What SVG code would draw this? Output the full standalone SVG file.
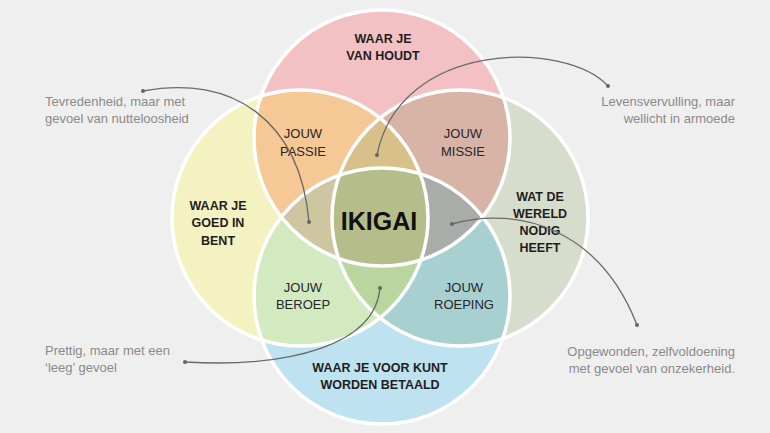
<svg xmlns="http://www.w3.org/2000/svg" width="770" height="433" viewBox="0 0 770 433">
<defs>
<clipPath id="cP"><circle cx="382" cy="138" r="128"/></clipPath>
<clipPath id="cY"><circle cx="300" cy="218" r="128"/></clipPath>
<clipPath id="cR"><circle cx="460" cy="218" r="128"/></clipPath>
<clipPath id="cB"><circle cx="382" cy="296" r="128"/></clipPath>
<marker id="dot" viewBox="0 0 6 6" refX="3" refY="3" markerWidth="4" markerHeight="4" markerUnits="userSpaceOnUse"><circle cx="3" cy="3" r="3" fill="#666"/></marker>
</defs>
<style>
.lbl{font-family:"Liberation Sans",Arial,sans-serif;font-size:12.5px;fill:#1e1e1e;text-anchor:middle}
.b{font-weight:bold}
.r{font-size:13px;fill:#262626}
.note{font-family:"Liberation Sans",Arial,sans-serif;font-size:13px;fill:#8a8a8a}
.con{fill:none;stroke:#6a6a6a;stroke-width:1.3;marker-start:url(#dot);marker-end:url(#dot)}
.edge{fill:none;stroke:#ffffff;stroke-width:3.5}
</style>
<rect x="0" y="0" width="770" height="433" fill="#efefef"/>
<g id="circles">
<g id="waar-je-van-houdt"><circle cx="382" cy="138" r="128" fill="#f3c1c3"/></g>
<g id="waar-je-goed-in-bent"><circle cx="300" cy="218" r="128" fill="#f5f2c2"/></g>
<g id="wat-de-wereld-nodig-heeft"><circle cx="460" cy="218" r="128" fill="#d6ddcd"/></g>
<g id="waar-je-voor-kunt-worden-betaald"><circle cx="382" cy="296" r="128" fill="#bfe2f1"/></g>
<g id="overlaps">
<circle cx="300" cy="218" r="128" fill="#f5c896" clip-path="url(#cP)"/>
<circle cx="460" cy="218" r="128" fill="#d8b4a7" clip-path="url(#cP)"/>
<circle cx="300" cy="218" r="128" fill="#d3eac1" clip-path="url(#cB)"/>
<circle cx="460" cy="218" r="128" fill="#a9d0d0" clip-path="url(#cB)"/>
<g clip-path="url(#cY)"><circle cx="460" cy="218" r="128" fill="#d8c08b" clip-path="url(#cP)"/></g>
<g clip-path="url(#cY)"><circle cx="382" cy="296" r="128" fill="#cdc6a1" clip-path="url(#cP)"/></g>
<g clip-path="url(#cR)"><circle cx="382" cy="296" r="128" fill="#a9aca8" clip-path="url(#cP)"/></g>
<g clip-path="url(#cY)"><circle cx="382" cy="296" r="128" fill="#b9d69e" clip-path="url(#cR)"/></g>
<g clip-path="url(#cY)"><g clip-path="url(#cR)"><circle cx="382" cy="296" r="128" fill="#b5bd8b" clip-path="url(#cP)"/></g></g>
</g>
<circle class="edge" cx="382" cy="138" r="128"/>
<circle class="edge" cx="300" cy="218" r="128"/>
<circle class="edge" cx="460" cy="218" r="128"/>
<circle class="edge" cx="382" cy="296" r="128"/>
</g>
<g id="labels">
<text class="lbl b" x="383" y="43">WAAR JE</text>
<text class="lbl b" x="383" y="60">VAN HOUDT</text>
<text class="lbl b" x="218" y="210">WAAR JE</text>
<text class="lbl b" x="218" y="227">GOED IN</text>
<text class="lbl b" x="218" y="245">BENT</text>
<text class="lbl b" x="540" y="201">WAT DE</text>
<text class="lbl b" x="540" y="218">WERELD</text>
<text class="lbl b" x="540" y="235">NODIG</text>
<text class="lbl b" x="540" y="252">HEEFT</text>
<text class="lbl b" x="380" y="372">WAAR JE VOOR KUNT</text>
<text class="lbl b" x="380" y="389">WORDEN BETAALD</text>
<text class="lbl r" x="303" y="138">JOUW</text>
<text class="lbl r" x="303" y="156">PASSIE</text>
<text class="lbl r" x="463" y="138">JOUW</text>
<text class="lbl r" x="463" y="156">MISSIE</text>
<text class="lbl r" x="303" y="292">JOUW</text>
<text class="lbl r" x="303" y="309">BEROEP</text>
<text class="lbl r" x="464" y="292">JOUW</text>
<text class="lbl r" x="464" y="309">ROEPING</text>
<text class="lbl b" x="379" y="230" style="font-size:25px;fill:#111">IKIGAI</text>
</g>
<g id="notes">
<text class="note" x="45" y="106">Tevredenheid, maar met</text>
<text class="note" x="45" y="123">gevoel van nutteloosheid</text>
<text class="note" x="735" y="106" text-anchor="end">Levensvervulling, maar</text>
<text class="note" x="735" y="123" text-anchor="end">wellicht in armoede</text>
<text class="note" x="45" y="355">Prettig, maar met een</text>
<text class="note" x="45" y="372">‘leeg’ gevoel</text>
<text class="note" x="735" y="356" text-anchor="end">Opgewonden, zelfvoldoening</text>
<text class="note" x="735" y="373" text-anchor="end">met gevoel van onzekerheid.</text>
</g>
<g id="connectors">
<path class="con" d="M143,91 C232,74 300,120 309,222"/>
<path class="con" d="M608,86 C565,40 400,40 377,155"/>
<path class="con" d="M185,362 C290,368 375,345 380,288"/>
<path class="con" d="M452,224 C520,205 600,230 637,325"/>
</g>
</svg>
